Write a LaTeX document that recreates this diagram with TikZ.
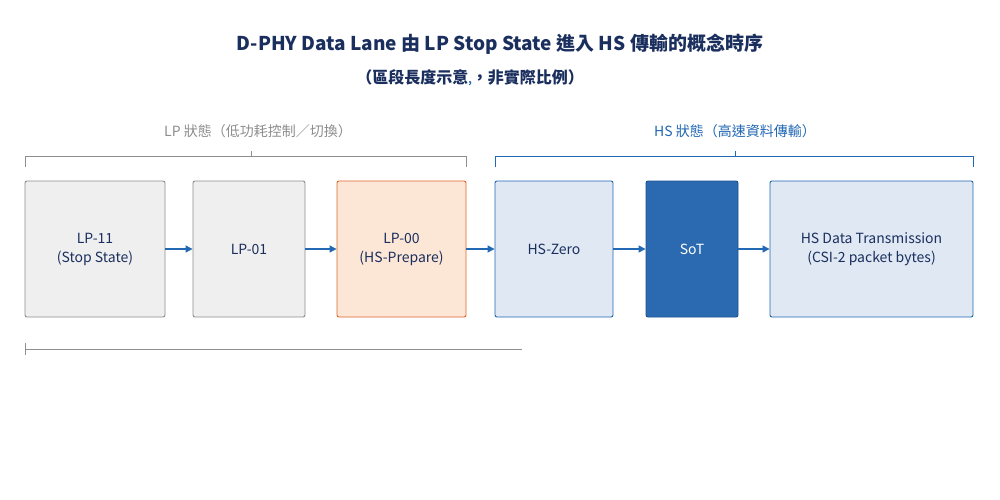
\documentclass[tikz,border=0pt]{standalone}
\usepackage{fontspec}
\setmainfont{Noto Sans CJK TC}
\usetikzlibrary{arrows.meta}
\definecolor{navy}{HTML}{1B2F5E}
\definecolor{blu}{HTML}{2268B3}
\definecolor{gbord}{HTML}{8E8E8E}
\definecolor{gfill}{HTML}{EFEFEF}
\definecolor{ofill}{HTML}{FCE6D6}
\definecolor{obord}{HTML}{E0662A}
\definecolor{bfill}{HTML}{DFE8F3}
\definecolor{dblu}{HTML}{2B6AB1}
\begin{document}
\begin{tikzpicture}[x=1pt,y=-1pt,
  box/.style={draw,line width=0.9pt,rounded corners=2pt,align=center,font=\fontsize{14}{19}\selectfont,text=navy},
  gbox/.style={box,draw=gbord,fill=gfill},
  obox/.style={box,draw=obord,fill=ofill},
  bbox/.style={box,draw=blu,fill=bfill},
  arr/.style={-{Triangle[length=7pt,width=7pt]},line width=1.2pt,draw=blu},
  brace/.style={line width=0.8pt}]
\useasboundingbox (0,0) rectangle (1000,500);
\fill[white] (0,0) rectangle (1000,500);
\node[font=\fontsize{19}{22}\selectfont\bfseries,text=navy] (title) at (500,44) {D-PHY Data Lane 由 LP Stop State 進入 HS 傳輸的概念時序};
\node[font=\fontsize{16}{20}\selectfont\bfseries,text=navy] (sub) at (470,78) {（區段長度示意{\color{blu}\fontsize{10}{10}\selectfont ,}，非實際比例）};
\node[gbox,minimum width=140pt,minimum height=136pt] (a) at (95,249) {LP-11\\(Stop State)};
\node[gbox,minimum width=112pt,minimum height=136pt] (b) at (249,249) {LP-01};
\node[obox,minimum width=129pt,minimum height=136pt] (c) at (401.5,249) {LP-00\\(HS-Prepare)};
\node[bbox,minimum width=118pt,minimum height=136pt] (d) at (554,249) {HS-Zero};
\node[box,draw=blu!80!black,fill=dblu,text=white,minimum width=92pt,minimum height=136pt] (e) at (692,249) {SoT};
\node[bbox,minimum width=203pt,minimum height=136pt] (f) at (871.5,249) {HS Data Transmission\\(CSI-2 packet bytes)};
\foreach \p/\q in {a/b,b/c,c/d,d/e,e/f} \draw[arr] (\p) -- (\q);
\draw[brace,draw=gbord] (25,167) -- (25,156) -- (466,156) -- (466,167);
\draw[brace,draw=gbord] (251,156) -- (251,151);
\node[text=gbord,font=\fontsize{14}{16}\selectfont] (lpl) at (258,131) {LP 狀態（低功耗控制／切換）};
\draw[brace,draw=blu] (495,167) -- (495,156) -- (973,156) -- (973,167);
\draw[brace,draw=blu] (735,156) -- (735,151);
\node[text=blu,font=\fontsize{14}{16}\selectfont] (hsl) at (735,131) {HS 狀態（高速資料傳輸）};
\coordinate (t0) at (25,349); \coordinate (t1) at (522,349);
\draw[gbord,line width=0.9pt] (t0) -- (t1);
\draw[gbord,line width=0.9pt] (25,343) -- (25,355);
\end{tikzpicture}
\end{document}
